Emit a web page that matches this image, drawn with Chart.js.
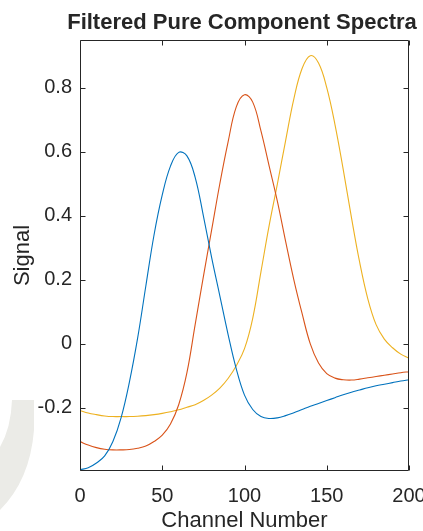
<!DOCTYPE html>
<html>
<head>
<meta charset="utf-8">
<script src="https://cdn.jsdelivr.net/npm/chart.js@4.4.1/dist/chart.umd.min.js"></script>
<style>
  html, body { margin: 0; padding: 0; background: #ffffff; }
  canvas { display: block; }
</style>
</head>
<body>
<canvas id="c" width="423" height="531"></canvas>
<script>
// ---- data ----
const channels = [0,5,10,15,20,25,30,35,40,45,50,55,60,65,70,75,80,85,90,95,100,
                  105,110,115,120,125,130,135,140,145,150,155,160,165,170,175,180,185,190,195,200];
const component1 = [-0.393,-0.387,-0.372,-0.35,-0.305,-0.23,-0.12,0.017,0.18,0.34,0.465,
                    0.555,0.598,0.587,0.52,0.40,0.27,0.15,0.03,-0.078,-0.16,
                    -0.205,-0.227,-0.233,-0.231,-0.224,-0.215,-0.205,-0.195,-0.186,-0.177,
                    -0.168,-0.159,-0.151,-0.144,-0.137,-0.131,-0.126,-0.121,-0.116,-0.112];
const component2 = [-0.305,-0.316,-0.324,-0.329,-0.331,-0.331,-0.33,-0.326,-0.319,-0.305,-0.285,
                    -0.25,-0.19,-0.09,0.06,0.21,0.355,0.5,0.63,0.74,0.778,
                    0.755,0.665,0.555,0.445,0.32,0.2,0.095,0.0,-0.06,-0.093,
                    -0.107,-0.112,-0.113,-0.11,-0.106,-0.102,-0.098,-0.094,-0.09,-0.087];
const component3 = [-0.208,-0.216,-0.221,-0.225,-0.227,-0.227,-0.227,-0.226,-0.224,-0.221,-0.217,
                    -0.212,-0.206,-0.198,-0.19,-0.177,-0.16,-0.138,-0.108,-0.068,-0.015,
                    0.08,0.225,0.37,0.5,0.635,0.765,0.86,0.9,0.877,0.8,
                    0.685,0.545,0.395,0.255,0.14,0.06,0.015,-0.012,-0.032,-0.045];
const xTicks = [0, 50, 100, 150, 200];
const xTickLabels = ['0', '50', '100', '150', '200'];
const yTicks = [-0.2, 0, 0.2, 0.4, 0.6, 0.8];
const yTickLabels = ['-0.2', '0', '0.2', '0.4', '0.6', '0.8'];
const titleText = 'Filtered Pure Component Spectra';
const xLabel = 'Channel Number';
const yLabel = 'Signal';

const FONT = '"Liberation Sans", Arial, Helvetica, sans-serif';
const INK = '#262626';

function pts(ys) { return channels.map((c, i) => ({ x: c, y: ys[i] })); }

const backdrop = {
  id: 'backdrop',
  beforeDraw(chart) {
    const ctx = chart.ctx;
    ctx.save();
    ctx.fillStyle = '#ebebe7';
    ctx.beginPath();
    ctx.moveTo(12, 400); ctx.lineTo(34, 400); ctx.lineTo(34, 430);
    ctx.quadraticCurveTo(30, 480, 0, 510);
    ctx.lineTo(0, 447);
    ctx.quadraticCurveTo(11, 428, 12, 400);
    ctx.closePath();
    ctx.fill();
    ctx.restore();
  }
};

const frame = {
  id: 'frame',
  afterDraw(chart) {
    const ctx = chart.ctx;
    const a = chart.chartArea;
    const xs = chart.scales.x, ys = chart.scales.y;
    const L = a.left + 0.5, R = a.right - 0.5, T = a.top + 0.5, B = a.bottom - 0.5;
    ctx.save();
    ctx.strokeStyle = INK;
    ctx.lineWidth = 1;
    ctx.beginPath();
    ctx.rect(L, T, R - L, B - T);
    const tl = 5;
    xs.ticks.forEach(t => {
      const p = Math.round(xs.getPixelForValue(t.value)) + 0.5;
      ctx.moveTo(p, B); ctx.lineTo(p, B - tl);
      ctx.moveTo(p, T); ctx.lineTo(p, T + tl);
    });
    ys.ticks.forEach(t => {
      const p = Math.round(ys.getPixelForValue(t.value)) + 0.5;
      ctx.moveTo(L, p); ctx.lineTo(L + tl, p);
      ctx.moveTo(R, p); ctx.lineTo(R - tl, p);
    });
    ctx.stroke();
    // title and axis labels
    ctx.fillStyle = INK;
    ctx.textAlign = 'center';
    ctx.textBaseline = 'alphabetic';
    ctx.font = 'bold 22px ' + FONT;
    ctx.fillText(titleText, 242, 28.5);
    ctx.font = '22px ' + FONT;
    ctx.fillText(xLabel, (a.left + a.right) / 2, 527);
    ctx.translate(29, (a.top + a.bottom) / 2);
    ctx.rotate(-Math.PI / 2);
    ctx.fillText(yLabel, 0, 0);
    ctx.restore();
  }
};

new Chart(document.getElementById('c'), {
  type: 'line',
  data: {
    datasets: [
      { data: pts(component1), borderColor: '#0072BD' },
      { data: pts(component2), borderColor: '#D95319' },
      { data: pts(component3), borderColor: '#EDB120' }
    ]
  },
  options: {
    responsive: false,
    animation: false,
    devicePixelRatio: 1,
    layout: { padding: { top: 40, right: 14, bottom: 0, left: 0 } },
    elements: {
      line: { borderWidth: 1.1, tension: 0.4, fill: false },
      point: { radius: 0, hoverRadius: 0 }
    },
    plugins: { legend: { display: false }, title: { display: false }, tooltip: { enabled: false } },
    scales: {
      x: {
        type: 'linear', min: 0, max: 200,
        grid: { display: false, drawTicks: false },
        border: { display: false },
        ticks: {
          autoSkip: false, maxRotation: 0, padding: 13, color: INK,
          font: { family: FONT, size: 20 },
          callback: (v, i) => xTickLabels[i]
        },
        afterBuildTicks: s => { s.ticks = xTicks.map(v => ({ value: v })); },
        afterFit: s => { s.height = 60; s.paddingLeft = 0; s.paddingRight = 0; }
      },
      y: {
        type: 'linear', min: -0.397, max: 0.949,
        grid: { display: false, drawTicks: false },
        border: { display: false },
        ticks: {
          autoSkip: false, padding: 8, color: INK,
          font: { family: FONT, size: 20 },
          callback: (v, i) => yTickLabels[i]
        },
        afterBuildTicks: s => { s.ticks = yTicks.map(v => ({ value: v })); },
        afterFit: s => { s.width = 80; s.paddingTop = 0; s.paddingBottom = 0; }
      }
    }
  },
  plugins: [backdrop, frame]
});
</script>
</body>
</html>
